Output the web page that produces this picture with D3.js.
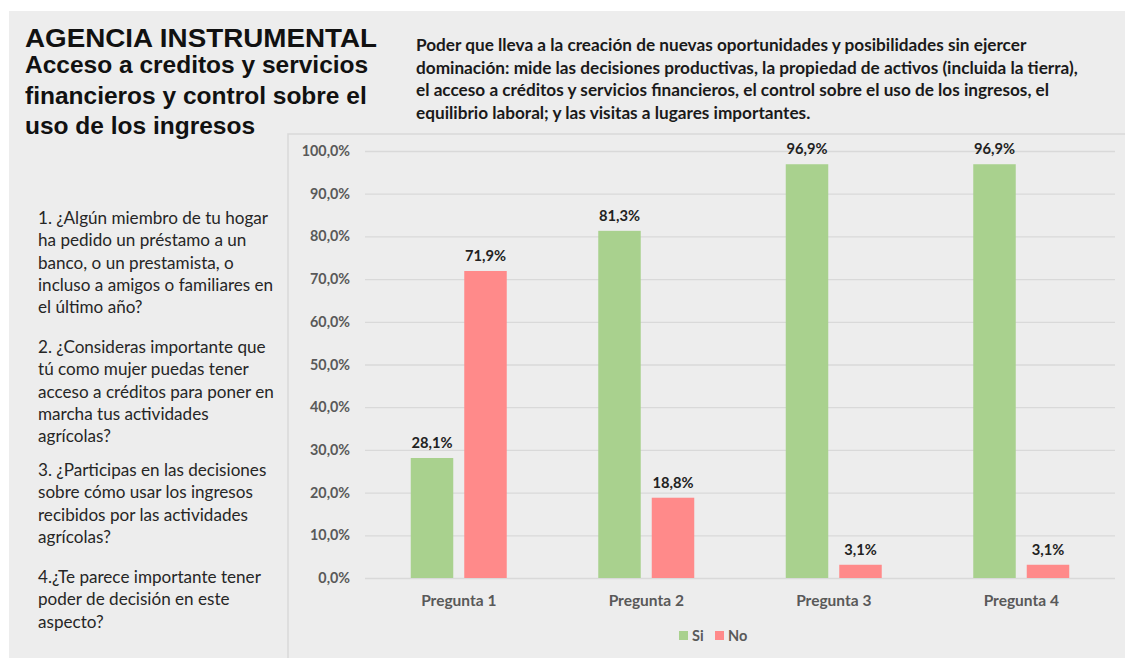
<!DOCTYPE html>
<html>
<head>
<meta charset="utf-8">
<script src="https://cdn.jsdelivr.net/npm/d3@7"></script>
<style>
  body { margin: 0; background: #fff; }
  .calib { font-family: Lato, "Open Sans", sans-serif; }
</style>
</head>
<body>
<svg width="1125" height="658"></svg>
<script>
var svg = d3.select('svg');

// data
var categories = ['Pregunta 1', 'Pregunta 2', 'Pregunta 3', 'Pregunta 4'];
var seriesNames = ['Si', 'No'];
var siValues = [28.1, 81.3, 96.9, 96.9];
var noValues = [71.9, 18.8, 3.1, 3.1];
var yTicks = [0, 10, 20, 30, 40, 50, 60, 70, 80, 90, 100];
var colors = ['#a9d18e', '#ff8a8a'];

var titleLines = ['Acceso a creditos y servicios', 'financieros y control sobre el', 'uso de los ingresos'];
var descLines = [
    'Poder que lleva a la creación de nuevas oportunidades y posibilidades sin ejercer',
    'dominación: mide las decisiones productivas, la propiedad de activos (incluida la tierra),',
    'el acceso a créditos y servicios financieros, el control sobre el uso de los ingresos, el',
    'equilibrio laboral; y las visitas a lugares importantes.'
];
var questions = [
    ['1. ¿Algún miembro de tu hogar', 'ha pedido un préstamo a un', 'banco, o un prestamista, o', 'incluso a amigos o familiares en', 'el último año?'],
    ['2. ¿Consideras importante que', 'tú como mujer puedas tener', 'acceso a créditos para poner en', 'marcha tus actividades', 'agrícolas?'],
    ['3. ¿Participas en las decisiones', 'sobre cómo usar los ingresos', 'recibidos por las actividades', 'agrícolas?'],
    ['4.¿Te parece importante tener', 'poder de decisión en este', 'aspecto?']
];
var questionTops = [218, 347, 470, 577];

var fmtPct = function(d) { return d3.format('.1f')(d).replace('.', ',') + '%'; };

// background panel
svg.append('rect').attr('x', 9).attr('y', 11).attr('width', 1116).attr('height', 647).attr('fill', '#ededed');
// chart box border
svg.append('path')
    .attr('d', 'M288,658V134H1125')
    .attr('fill', 'none').attr('stroke', '#d9d9d9').attr('stroke-width', 1.5);

// title
svg.append('text').attr('x', 25).attr('y', 47)
    .style('font-family', '"Liberation Sans", Arial, sans-serif')
    .style('font-weight', 'bold').style('font-size', '26px').attr('fill', '#111')
    .attr('textLength', 352).attr('lengthAdjust', 'spacingAndGlyphs')
    .text('AGENCIA INSTRUMENTAL');
svg.append('g').selectAll('text').data(titleLines).enter().append('text')
    .attr('x', 25).attr('y', function(d, i) { return 73 + i * 30.5; })
    .style('font-family', '"Liberation Sans", Arial, sans-serif')
    .style('font-weight', 'bold').style('font-size', '24.5px').attr('fill', '#111')
    .text(function(d) { return d; });

// description
svg.append('g').selectAll('text').data(descLines).enter().append('text')
    .attr('class', 'calib')
    .attr('x', 416).attr('y', function(d, i) { return 51 + i * 22.5; })
    .style('font-weight', 'bold').style('font-size', '17.2px').attr('fill', '#1a1a1a')
    .text(function(d) { return d; });

// questions on the left
questions.forEach(function(lines, q) {
    svg.append('g').selectAll('text').data(lines).enter().append('text')
        .attr('class', 'calib')
        .attr('x', 38).attr('y', function(d, i) { return questionTops[q] + 6 + i * 22.3; })
        .style('font-size', '17.1px').attr('fill', '#262626')
        .text(function(d) { return d; });
});

// chart
var x0 = d3.scaleBand().domain(categories).range([365, 1115]);
var y = d3.scaleLinear().domain([0, 100]).range([578, 151]);
var barW = 42.5, gap = 11;
var bandOff = (x0.bandwidth() - 2 * barW - gap) / 2;

var yAxis = d3.axisLeft(y).tickValues(yTicks).tickSize(-750).tickPadding(15).tickFormat(fmtPct);
var yG = svg.append('g').attr('transform', 'translate(365,0)').call(yAxis);
yG.select('.domain').remove();
yG.selectAll('line').attr('stroke', '#d9d9d9').attr('stroke-width', 1.3);
yG.selectAll('text').attr('fill', '#595959')
    .style('font-family', 'Lato, sans-serif').style('font-weight', 'bold').style('font-size', '14.3px');

var xAxis = d3.axisBottom(x0).tickSize(0).tickPadding(17);
var xG = svg.append('g').attr('transform', 'translate(0,578)').call(xAxis);
xG.select('.domain').remove();
xG.selectAll('text').attr('fill', '#595959')
    .style('font-family', 'Lato, sans-serif').style('font-weight', 'bold').style('font-size', '15.5px');

var rows = categories.map(function(c, i) { return { cat: c, vals: [siValues[i], noValues[i]] }; });

var groups = svg.append('g').selectAll('g').data(rows).enter().append('g')
    .attr('transform', function(d) { return 'translate(' + (x0(d.cat) + bandOff) + ',0)'; });

groups.selectAll('rect').data(function(d) { return d.vals; }).enter().append('rect')
    .attr('x', function(d, i) { return i * (barW + gap); })
    .attr('y', function(d) { return y(d); })
    .attr('width', barW)
    .attr('height', function(d) { return y(0) - y(d); })
    .attr('fill', function(d, i) { return colors[i]; });

groups.selectAll('text').data(function(d) { return d.vals; }).enter().append('text')
    .attr('x', function(d, i) { return i * (barW + gap) + barW / 2; })
    .attr('y', function(d) { return y(d) - 10; })
    .attr('text-anchor', 'middle')
    .style('font-family', 'Lato, sans-serif').style('font-weight', 'bold').style('font-size', '14.7px')
    .attr('fill', '#222')
    .text(fmtPct);

// legend
var legend = svg.append('g').selectAll('g').data(seriesNames).enter().append('g')
    .attr('transform', function(d, i) { return 'translate(' + (679 + i * 36) + ',631)'; });
legend.append('rect').attr('width', 9).attr('height', 9)
    .attr('fill', function(d, i) { return colors[i]; });
legend.append('text').attr('x', 13).attr('y', 9.5)
    .style('font-family', 'Lato, sans-serif').style('font-weight', 'bold').style('font-size', '14.5px')
    .attr('fill', '#595959')
    .text(function(d) { return d; });
</script>
</body>
</html>
